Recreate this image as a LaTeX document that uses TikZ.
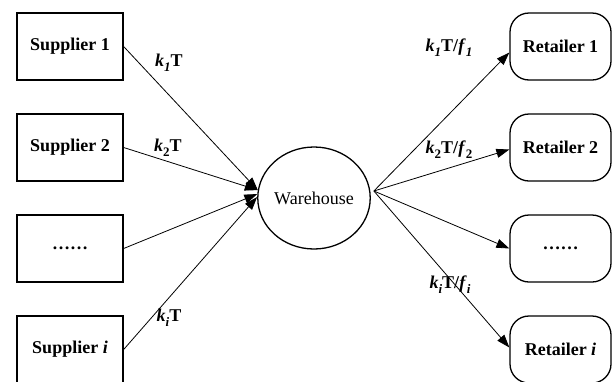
\documentclass[tikz,border=0pt]{standalone}
\usepackage{fontspec}
\setmainfont{Liberation Serif}
\usetikzlibrary{arrows.meta,shapes.geometric}

% bold-italic symbol with a lowered index
\newcommand{\sym}[2]{\textbf{\textit{#1}}\raisebox{-0.28em}{\fontsize{13}{13}\selectfont\bfseries #2}}

\begin{document}
\begin{tikzpicture}[x=1pt,y=-1pt,
  font=\fontsize{18}{20}\selectfont,
  supbox/.style={draw,line width=1.3pt,minimum width=106pt,minimum height=67pt,inner sep=0pt,font=\fontsize{18}{20}\selectfont\bfseries},
  retbox/.style={draw,line width=1.3pt,rounded corners=19pt,minimum width=101pt,minimum height=67pt,inner sep=0pt,font=\fontsize{18}{20}\selectfont\bfseries},
  hubnode/.style={draw,ellipse,line width=1.3pt,minimum width=111pt,minimum height=102pt,inner sep=0pt},
  flow/.style={line width=0.8pt,-{Triangle[length=13pt,width=9pt]}},
  lbl/.style={font=\fontsize{18}{20}\selectfont\bfseries,inner sep=0pt}]
\clip (0,0) rectangle (616,381);
\useasboundingbox (0,0) rectangle (616,381);

% suppliers
\node[supbox] (s1) at (70,46.5) {Supplier 1};
\node[supbox] (s2) at (70,147.5) {Supplier 2};
\node[supbox] (s3) at (70,248.5) {……};
\node[supbox] (s4) at (70,349.5) {Supplier \textit{i}};

% warehouse
\node[hubnode] (wh) at (314,198) {Warehouse};

% retailers
\node[retbox] (r1) at (560.5,46.5) {Retailer 1};
\node[retbox] (r2) at (560.5,147.5) {Retailer 2};
\node[retbox] (r3) at (560.5,248.5) {……};
\node[retbox] (r4) at (560.5,349.5) {Retailer \textit{i}};

% inbound flows
\coordinate (in) at (wh.172);
\draw[flow] (s1.east) -- (in);
\draw[flow] (s2.east) -- (in);
\draw[flow] (s3.east) -- (wh.176);
\draw[flow] (s4.east) -- (wh.179);

% outbound flows
\coordinate (hub) at ([xshift=3pt,yshift=7pt]wh.east);
\draw[flow] (hub) -- ([yshift=-6pt]r1.west);
\draw[flow] (hub) -- ([yshift=-2pt]r2.west);
\draw[flow] (hub) -- (r3.west);
\draw[flow] (hub) -- ([yshift=2pt]r4.west);

% flow labels
\node[lbl] (l1) at (169,63) {\sym{k}{\textit{1}}T};
\node[lbl] (l2) at (168,148) {\sym{k}{2}T};
\node[lbl] (l3) at (169,318) {\sym{k}{\textit{i}}T};
\node[lbl] (m1) at (449,48) {\sym{k}{\textit{1}}T/\sym{f}{\textit{1}}};
\node[lbl] (m2) at (449,150) {\sym{k}{2}T/\sym{f}{2}};
\node[lbl] (m3) at (450,285) {\sym{k}{\textit{i}}T/\sym{f}{\textit{i}}};
\end{tikzpicture}
\end{document}
